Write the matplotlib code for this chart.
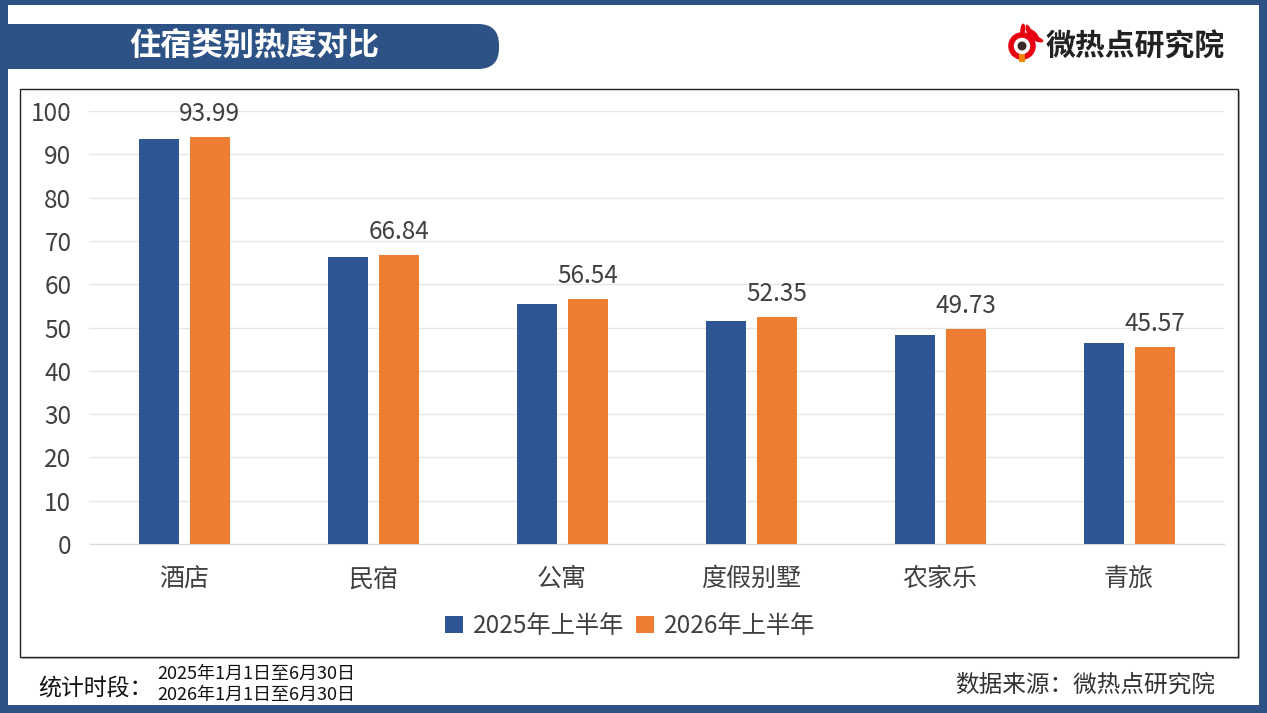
import matplotlib
matplotlib.use("Agg")
import matplotlib.pyplot as plt
import numpy as np
from matplotlib.patches import Rectangle, FancyBboxPatch, Circle, Ellipse

plt.rcParams['font.family'] = ['Noto Sans CJK SC', 'DejaVu Sans']

categories = ['酒店', '民宿', '公寓', '度假别墅', '农家乐', '青旅']
values_2025 = [93.5, 66.2, 55.4, 51.5, 48.3, 46.5]
values_2026 = [93.99, 66.84, 56.54, 52.35, 49.73, 45.57]
series_names = ['2025年上半年', '2026年上半年']
yticks = [0, 10, 20, 30, 40, 50, 60, 70, 80, 90, 100]

BLUE = '#2E5594'
ORANGE = '#ED7D31'
FRAME = '#2D5286'

W, H = 1267, 713
fig = plt.figure(figsize=(W / 100, H / 100), dpi=100, facecolor=FRAME)

# background layer drawn in pixel coordinates (y goes down)
bg = fig.add_axes([0, 0, 1, 1])
bg.set_xlim(0, W)
bg.set_ylim(H, 0)
bg.axis('off')
bg.set_zorder(0)

bg.add_patch(Rectangle((8, 5), 1251, 700, facecolor='white', edgecolor='none'))

# title banner
bg.add_patch(FancyBboxPatch((-30, 24), 529, 45,
                            boxstyle='round,pad=0,rounding_size=21',
                            facecolor=FRAME, edgecolor='none'))
bg.text(254, 47, '住宿类别热度对比', color='white', fontsize=22.5,
        fontweight='bold', ha='center', va='center')

# logo
bg.text(1046, 47, '微热点研究院', color='#222222', fontsize=21.5,
        fontweight='bold', ha='left', va='center')
for ang in [95, 70, 45, 20]:
    t = np.deg2rad(ang)
    bg.add_patch(Ellipse((1024 + 14 * np.cos(t), 44 - 14 * np.sin(t)), 5, 13,
                         angle=-(90 - ang), facecolor='#E60012', edgecolor='none'))
bg.add_patch(Circle((1022, 46), 11, facecolor='white', edgecolor='#E60012', lw=4))
bg.add_patch(Circle((1022, 46), 4.5, facecolor='#3A2A2A', edgecolor='none'))
bg.add_patch(Rectangle((1018.5, 54), 6, 8, facecolor='#F08300', edgecolor='none'))

# chart box with a soft shadow
bg.add_patch(Rectangle((22, 91), 1218, 568, facecolor='#BBBBBB', edgecolor='none'))
bg.add_patch(Rectangle((20, 89), 1218, 568, facecolor='white',
                       edgecolor='#222222', lw=1))

# footer
bg.text(38, 688, '统计时段：', fontsize=16.5, color='#111111', ha='left', va='center')
bg.text(157, 674, '2025年1月1日至6月30日', fontsize=13, color='#111111',
        ha='left', va='center')
bg.text(157, 695, '2026年1月1日至6月30日', fontsize=13, color='#111111',
        ha='left', va='center')
bg.text(1215, 685, '数据来源：微热点研究院', fontsize=17, color='#333333',
        ha='right', va='center')

# chart
ax = fig.add_axes([89.5 / W, 1 - 544 / H, 1134 / W, (544 - 111) / H])
ax.set_zorder(2)
ax.patch.set_alpha(0)

x = np.arange(len(categories))
bw = 0.212
ax.bar(x - 0.133, values_2025, bw, color=BLUE, label=series_names[0], zorder=3)
ax.bar(x + 0.137, values_2026, bw, color=ORANGE, label=series_names[1], zorder=3)

for xi, v in zip(x, values_2026):
    ax.text(xi + 0.137, v + 2.3, f'{v:.2f}', ha='center', va='bottom',
            fontsize=17.5, color='#404040')

ax.set_xlim(-0.5, len(categories) - 0.5)
ax.set_ylim(0, 100)
ax.set_yticks(yticks)
ax.set_xticks(x)
ax.set_xticklabels(categories, fontsize=18, color='#404040')
ax.tick_params(axis='y', labelsize=17.5, labelcolor='#404040', length=0, pad=13)
ax.tick_params(axis='x', length=0, pad=16)
ax.grid(axis='y', color='#E6E6E6', lw=1, zorder=0)
for s in ['top', 'right', 'left']:
    ax.spines[s].set_visible(False)
ax.spines['bottom'].set_color('#D9D9D9')

fig.legend(loc='center', bbox_to_anchor=(630 / W, 1 - 626 / H), ncol=2, frameon=False,
           fontsize=17.5, handlelength=0.75, handleheight=0.75, handletextpad=0.4,
           columnspacing=0.5, labelcolor='#404040')

fig.savefig('out.png', dpi=100, facecolor=FRAME)
